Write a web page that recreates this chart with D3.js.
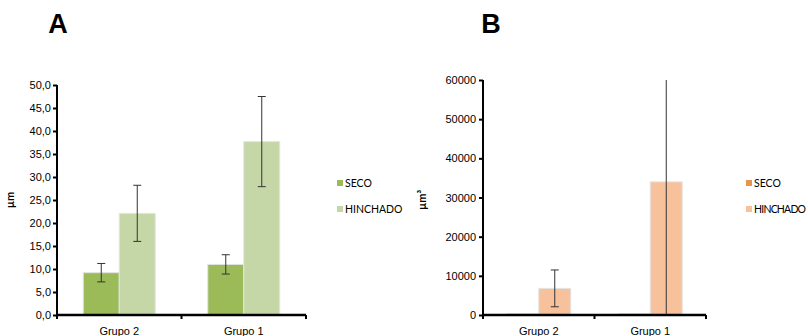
<!DOCTYPE html>
<html>
<head>
<meta charset="utf-8">
<script src="https://cdn.jsdelivr.net/npm/d3@7"></script>
<style>
  body { margin: 0; background: #fff; }
  svg { display: block; font-family: Lato, 'Open Sans', sans-serif; }
</style>
</head>
<body>
<svg id="chart" width="808" height="336"></svg>
<script>
// data
const categories = ['Grupo 2', 'Grupo 1'];
const seriesNames = ['SECO', 'HINCHADO'];

// panel A - length (µm)
const lengthSeco = [9.2, 11.0];
const lengthSecoErr = [2.0, 2.1];
const lengthHinchado = [22.1, 37.7];
const lengthHinchadoErr = [6.1, 9.8];
const lengthTicks = [0, 5, 10, 15, 20, 25, 30, 35, 40, 45, 50];

// panel B - volume (µm³)
const volumeSeco = [300, 300];
const volumeSecoErr = [0, 0];
const volumeHinchado = [6800, 34000];
const volumeHinchadoErr = [4700, 36000];
const volumeTicks = [0, 10000, 20000, 30000, 40000, 50000, 60000];

const esLocale = d3.formatLocale({ decimal: ',', thousands: '.', grouping: [3], currency: ['', ''] });

const svg = d3.select('#chart');

const panels = [
  {
    id: 'a', title: 'A', titleX: 58, ylabel: 'µm', ylabelX: 14,
    left: 57, right: 306, top: 85, bottom: 315, max: 50,
    ticks: lengthTicks, fmt: esLocale.format('.1f'), labelX: 51,
    values: [lengthSeco, lengthHinchado], errors: [lengthSecoErr, lengthHinchadoErr],
    colors: ['#9bbb59', '#c5d7a6'], barWidth: 36,
    legendX: 337
  },
  {
    id: 'b', title: 'B', titleX: 491, ylabel: 'µm³', ylabelX: 426,
    left: 483, right: 706, top: 80, bottom: 315, max: 60000,
    ticks: volumeTicks, fmt: d3.format('d'), labelX: 476,
    values: [volumeSeco, volumeHinchado], errors: [volumeSecoErr, volumeHinchadoErr],
    colors: ['#e5954c', '#f7c19b'], barWidth: 32,
    legendX: 746
  }
];

panels.forEach(p => drawPanel(p));

function drawPanel(p) {
  const g = svg.append('g');

  const x = d3.scaleBand().domain(categories).range([p.left, p.right]);
  const y = d3.scaleLinear().domain([0, p.max]).range([p.bottom, p.top]);

  // panel letter
  g.append('text')
    .attr('x', p.titleX).attr('y', 33)
    .attr('text-anchor', 'middle')
    .style('font-family', "'Liberation Sans', Arial, sans-serif")
    .style('font-weight', 'bold')
    .style('font-size', '27px')
    .text(p.title);

  // clip for error bars running off the plot
  g.append('clipPath').attr('id', 'clip-' + p.id)
    .append('rect')
    .attr('x', p.left).attr('y', p.top)
    .attr('width', p.right - p.left).attr('height', p.bottom - p.top);

  // bars
  const bw = p.barWidth;
  seriesNames.forEach((s, si) => {
    g.selectAll('.bar-' + si)
      .data(categories)
      .enter()
      .append('rect')
      .attr('x', d => x(d) + x.bandwidth() / 2 - bw + si * bw)
      .attr('y', (d, i) => y(p.values[si][i]))
      .attr('width', bw)
      .attr('height', (d, i) => p.bottom - y(p.values[si][i]))
      .attr('fill', p.colors[si])
      .attr('stroke', '#e4e4e4')
      .attr('stroke-width', 1);
  });

  // error bars
  const eg = g.append('g').attr('clip-path', `url(#clip-${p.id})`);
  seriesNames.forEach((s, si) => {
    categories.forEach((c, i) => {
      const e = p.errors[si][i];
      if (!e) return;
      const cx = x(c) + x.bandwidth() / 2 - bw / 2 + si * bw;
      const hi = y(p.values[si][i] + e);
      const lo = y(p.values[si][i] - e);
      eg.append('line')
        .attr('x1', cx).attr('x2', cx).attr('y1', hi).attr('y2', lo)
        .attr('stroke', '#333').attr('stroke-width', 1);
      [hi, lo].forEach(yy => {
        eg.append('line')
          .attr('x1', cx - 4).attr('x2', cx + 4).attr('y1', yy).attr('y2', yy)
          .attr('stroke', '#333').attr('stroke-width', 1);
      });
    });
  });

  // y axis
  const yAxis = g.append('g')
    .attr('transform', `translate(${p.left},0)`)
    .call(d3.axisLeft(y).tickValues(p.ticks).tickFormat(p.fmt).tickSize(4).tickPadding(3));
  yAxis.select('.domain').attr('stroke', '#000').attr('stroke-width', 2)
    .attr('d', `M0,${p.top}V${p.bottom}`);
  yAxis.selectAll('.tick line').attr('stroke', '#000').attr('stroke-width', 2);
  yAxis.selectAll('.tick text')
    .attr('x', p.labelX - p.left)
    .style('font-size', '11px').attr('fill', '#000');

  // x axis
  const xAxis = g.append('g')
    .attr('transform', `translate(0,${p.bottom})`)
    .call(d3.axisBottom(x).tickSize(0).tickPadding(12));
  xAxis.select('.domain').attr('stroke', '#000').attr('stroke-width', 2.5)
    .attr('d', `M${p.left},0H${p.right}`);
  xAxis.selectAll('.tick text').style('font-size', '11px').attr('fill', '#000');
  // boundary ticks between categories
  const bounds = [p.left, (p.left + p.right) / 2, p.right];
  xAxis.selectAll('.bound')
    .data(bounds)
    .enter()
    .append('line')
    .attr('x1', d => d).attr('x2', d => d)
    .attr('y1', 0).attr('y2', 4)
    .attr('stroke', '#000').attr('stroke-width', 2);

  // y label
  g.append('text')
    .attr('transform', `translate(${p.ylabelX},200) rotate(-90)`)
    .attr('text-anchor', 'middle')
    .style('font-size', '11px')
    .style('font-weight', 'bold')
    .text(p.ylabel);

  // legend
  const lg = g.append('g');
  seriesNames.forEach((s, si) => {
    const ly = 183 + si * 26;
    lg.append('rect')
      .attr('x', p.legendX).attr('y', ly - 3).attr('width', 6).attr('height', 6)
      .attr('fill', p.colors[si]);
    lg.append('text')
      .attr('x', p.legendX + 8).attr('y', ly + 4)
      .style('font-size', '10.5px')
      .attr('textLength', s === 'HINCHADO' && p.id === 'b' ? 52 : null)
      .text(s);
  });
}
</script>
</body>
</html>
